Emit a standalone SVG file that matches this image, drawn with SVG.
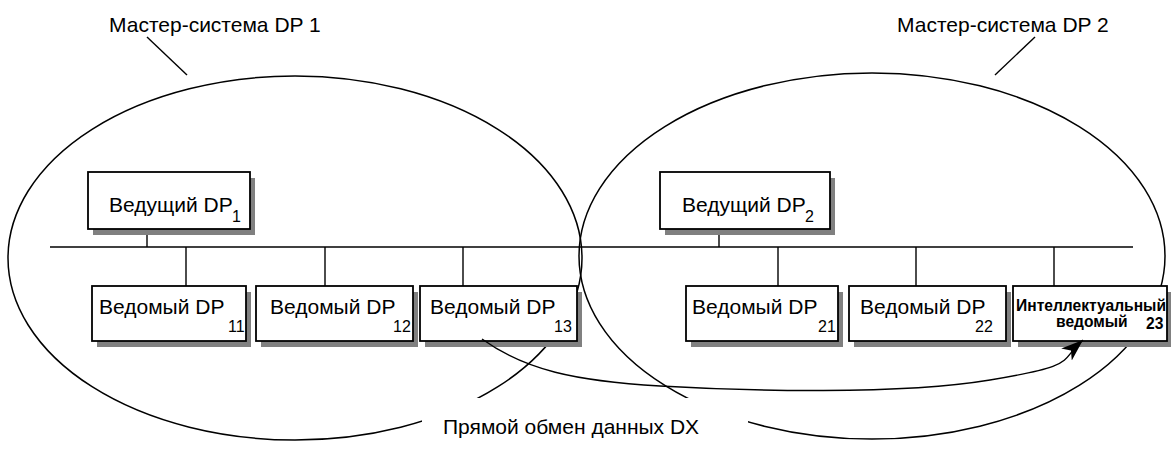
<svg xmlns="http://www.w3.org/2000/svg" width="1171" height="456" viewBox="0 0 1171 456">
<style>
.t{font-family:"Liberation Sans",Arial,sans-serif;font-size:21px;fill:#000}
.s{font-family:"Liberation Sans",Arial,sans-serif;font-size:16px;fill:#000}
.b{font-family:"Liberation Sans",Arial,sans-serif;font-size:15.6px;font-weight:bold;fill:#000}
.ell{fill:none;stroke:#000;stroke-width:1.5}
.ln{fill:none;stroke:#000;stroke-width:1.4}
.box{fill:#fff;stroke:#000;stroke-width:1.8}
.sh{fill:#808080}
</style>
<defs>
<marker id="ah" markerUnits="userSpaceOnUse" markerWidth="24" markerHeight="16" refX="22" refY="8" orient="auto">
<path d="M0,0 L22,8 L0,16 L6,8 z" fill="#000"/>
</marker>
</defs>
<g id="systems">
<ellipse class="ell" cx="295" cy="258" rx="287" ry="182"/>
<ellipse class="ell" cx="872" cy="256" rx="293" ry="183"/>
<line class="ln" x1="147" y1="37" x2="187" y2="75"/>
<line class="ln" x1="1035" y1="37" x2="995" y2="75"/>
<text class="t" x="109" y="32">Мастер-система DP 1</text>
<text class="t" x="897" y="32">Мастер-система DP 2</text>
</g>
<g id="label-dx">
<rect x="422" y="398" width="326" height="58" fill="#fff"/>
<text class="t" x="443" y="434">Прямой обмен данных DX</text>
</g>
<g id="connectors">
<line class="ln" x1="50" y1="247" x2="1133" y2="247"/>
<line class="ln" x1="147" y1="229" x2="147" y2="247"/>
<line class="ln" x1="719" y1="229" x2="719" y2="247"/>
<line class="ln" x1="186" y1="247" x2="186" y2="286"/>
<line class="ln" x1="325" y1="247" x2="325" y2="286"/>
<line class="ln" x1="463" y1="247" x2="463" y2="286"/>
<line class="ln" x1="778" y1="247" x2="778" y2="286"/>
<line class="ln" x1="916" y1="247" x2="916" y2="286"/>
<line class="ln" x1="1054" y1="247" x2="1054" y2="286"/>
</g>
<g id="master1">
<rect class="sh" x="93" y="178" width="162" height="57"/>
<rect class="box" x="88" y="172" width="162" height="57"/>
<text class="t" x="109" y="212">Ведущий DP</text><text class="s" x="232" y="222">1</text>
</g>
<g id="master2">
<rect class="sh" x="665" y="178" width="170" height="57"/>
<rect class="box" x="660" y="172" width="170" height="57"/>
<text class="t" x="682" y="212">Ведущий DP</text><text class="s" x="805" y="222">2</text>
</g>
<g id="slave11">
<rect class="sh" x="97" y="292" width="154" height="55"/>
<rect class="box" x="92" y="286" width="154" height="55"/>
<text class="t" x="99" y="314">Ведомый DP</text><text class="s" x="228" y="332">11</text>
</g>
<g id="slave12">
<rect class="sh" x="261" y="292" width="157" height="55"/>
<rect class="box" x="256" y="286" width="157" height="55"/>
<text class="t" x="270" y="314">Ведомый DP</text><text class="s" x="393" y="332">12</text>
</g>
<g id="slave13">
<rect class="sh" x="425" y="292" width="157" height="55"/>
<rect class="box" x="420" y="286" width="157" height="55"/>
<text class="t" x="430" y="314">Ведомый DP</text><text class="s" x="554" y="332">13</text>
</g>
<g id="slave21">
<rect class="sh" x="691" y="292" width="152" height="55"/>
<rect class="box" x="686" y="286" width="152" height="55"/>
<text class="t" x="692" y="314">Ведомый DP</text><text class="s" x="818" y="332">21</text>
</g>
<g id="slave22">
<rect class="sh" x="854" y="292" width="157" height="55"/>
<rect class="box" x="849" y="286" width="157" height="55"/>
<text class="t" x="860" y="314">Ведомый DP</text><text class="s" x="975" y="332">22</text>
</g>
<g id="slave23">
<rect class="sh" x="1018" y="292" width="154" height="55"/>
<rect class="box" x="1013" y="286" width="154" height="55"/>
<text class="b" x="1016" y="311">Интеллектуальный</text>
<text class="b" x="1056" y="327">ведомый</text>
<text class="b" x="1146" y="329">23</text>
</g>
<g id="dx-arrow">
<path class="ln" d="M482,339 C525,370 575,381 660,386 S900,395 990,380 S1058,362 1083,340" marker-end="url(#ah)"/>
</g>
</svg>
